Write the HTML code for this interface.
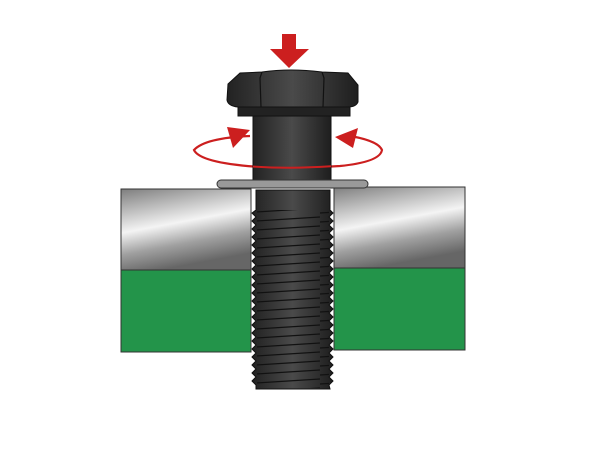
<!DOCTYPE html>
<html><head><style>html,body{margin:0;padding:0;background:#fff}</style></head><body>
<svg width="600" height="450" viewBox="0 0 600 450" xmlns="http://www.w3.org/2000/svg">
<defs>
<linearGradient id="steel" x1="0" y1="0" x2="0.3" y2="1">
<stop offset="0" stop-color="#7e7e7e"/><stop offset="0.5" stop-color="#f4f4f4"/><stop offset="0.75" stop-color="#a0a0a0"/><stop offset="1" stop-color="#666"/></linearGradient>
<linearGradient id="bolt" x1="0" y1="0" x2="1" y2="0">
<stop offset="0" stop-color="#222"/><stop offset="0.5" stop-color="#4a4a4a"/><stop offset="1" stop-color="#1e1e1e"/></linearGradient>
<pattern id="thr" width="80" height="9" patternUnits="userSpaceOnUse">
<line x1="0" y1="6" x2="80" y2="1" stroke="#111" stroke-width="1.3"/></pattern>
</defs>
<rect x="121" y="189" width="130" height="81" fill="url(#steel)" stroke="#333"/>
<rect x="121" y="270" width="130" height="82" fill="#23944a" stroke="#333"/>
<rect x="334" y="187" width="131" height="81" fill="url(#steel)" stroke="#333"/>
<rect x="334" y="268" width="131" height="82" fill="#23944a" stroke="#333"/>
<path d="M256 190 H330 V210 L333 213 L329 217 L333 221 L329 225 L333 229 L329 233 L333 237 L329 241 L333 245 L329 249 L333 253 L329 257 L333 261 L329 265 L333 269 L329 273 L333 277 L329 281 L333 285 L329 289 L333 293 L329 297 L333 301 L329 305 L333 309 L329 313 L333 317 L329 321 L333 325 L329 329 L333 333 L329 337 L333 341 L329 345 L333 349 L329 353 L333 357 L329 361 L333 365 L329 369 L333 373 L329 377 L333 381 L329 385 L330 389 H256 L256 385 L252 381 L256 377 L252 373 L256 369 L252 365 L256 361 L252 357 L256 353 L252 349 L256 345 L252 341 L256 337 L252 333 L256 329 L252 325 L256 321 L252 317 L256 313 L252 309 L256 305 L252 301 L256 297 L252 293 L256 289 L252 285 L256 281 L252 277 L256 273 L252 269 L256 265 L252 261 L256 257 L252 253 L256 249 L252 245 L256 241 L252 237 L256 233 L252 229 L256 225 L252 221 L256 217 L252 213 L256 210 Z" fill="url(#bolt)" stroke="#111"/>
<rect x="257" y="210" width="72" height="178" fill="url(#thr)"/>
<path d="M250 136 Q205 138 194 150 Q200 163 260 167 Q300 169 340 166 Q380 162 382 150 Q378 140 344 135" fill="none" stroke="#cc1f1f" stroke-width="2.2"/>
<rect x="253" y="115" width="78" height="68" fill="url(#bolt)" stroke="#111"/>
<path d="M253 166.5 Q290 169 331 166.3" fill="none" stroke="#cc1f1f" stroke-width="2"/>
<rect x="217" y="180" width="151" height="8" rx="4" fill="#999" stroke="#333"/>
<rect x="238" y="104" width="112" height="12" fill="#222" stroke="#111"/>
<path d="M228 84 L240 73 L262 72 Q290 68 322 72 L348 73 L358 85 L358 102 Q356 107 348 107 L238 107 Q228 106 227 100 Z" fill="url(#bolt)" stroke="#111"/>
<path d="M262 72 L260 78 L261 107 M322 72 L324 78 L323 107" stroke="#111" stroke-width="1.2" fill="none"/>
<path d="M250 130 L227 127 L233 148 Z" fill="#cc1f1f"/>
<path d="M335 137 L358 128 L353 148 Z" fill="#cc1f1f"/>
<rect x="282" y="34" width="14" height="16" fill="#cc1f1f"/>
<path d="M270 49 H309 L289 68 Z" fill="#cc1f1f"/>
</svg>
</body></html>
